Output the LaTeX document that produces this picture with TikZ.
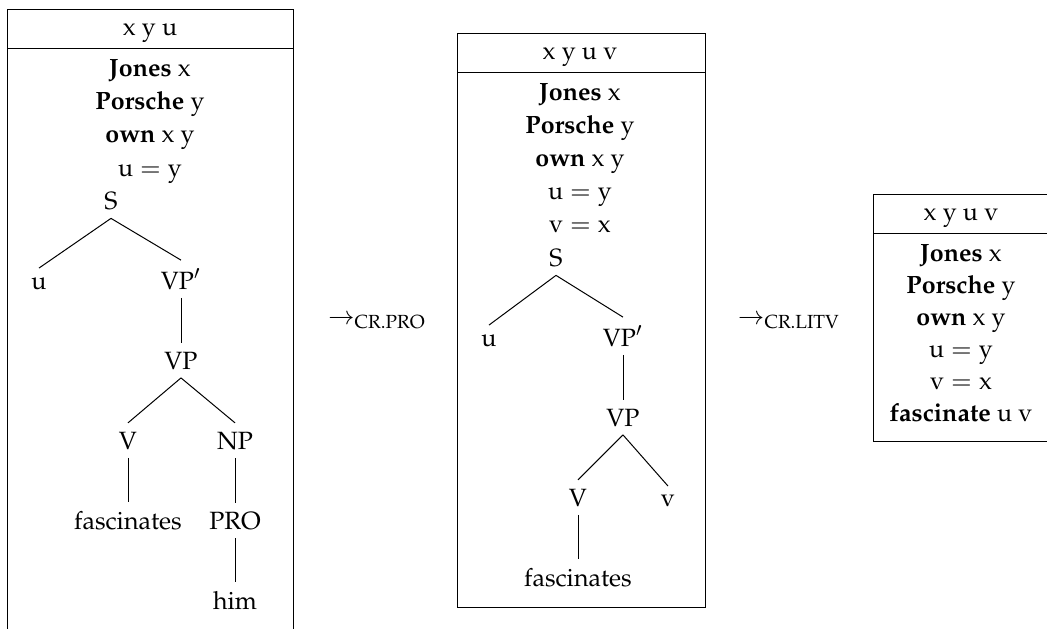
\documentclass[tikz,border=0pt]{standalone}
\usepackage[T1]{fontenc}
\usepackage{mathpazo}
\tikzset{cond/.style={anchor=base,inner sep=0pt},
  cat/.style={anchor=base}}
\begin{document}
\begin{tikzpicture}[x=0.4pt,y=-0.4pt]
      \useasboundingbox (0,0) rectangle (1047,628);
      % first box
      \draw (7,640) -- (7,9.5) -- (293,9.5) -- (293,640);
      \draw (7,48) -- (293,48);
      \node[cond] (hdA) at (150,35) {x y u};
      \node[cond] (jonesA) at (150,76) {\textbf{Jones} x};
      \node[cond] (porscheA) at (150,109) {\textbf{Porsche} y};
      \node[cond] (ownA) at (150,142) {\textbf{own} x y};
      \node[cond] (eqA) at (150,176) {$\mathrm{u}=\mathrm{y}$};
      \node[cat] (SA) at (111,209) {S};
      \node[cat] (uA) at (39,289) {u};
      \node[cat] (VPbarA) at (181,289) {VP$'$};
      \node[cat] (VPA) at (181,369) {VP};
      \node[cat] (VA) at (128,449) {V};
      \node[cat] (NPA) at (235,449) {NP};
      \node[cat] (fascA) at (128,529) {fascinates};
      \node[cat] (PROA) at (235,529) {PRO};
      \node[cat] (himA) at (235,609) {him};
      \foreach \a/\b in {SA/uA,SA/VPbarA,VPbarA/VPA,VPA/VA,VPA/NPA,VA/fascA,NPA/PROA,PROA/himA}
        \draw (\a.south) -- (\b.north);
      \node[cond] (arrA) at (377,324) {$\rightarrow_{\mathrm{CR.PRO}}$};
      % second box
      \draw (457,33) rectangle (705,607);
      \draw (457,72) -- (705,72);
      \node[cond] (hdB) at (580,59) {x y u v};
      \node[cond] (jonesB) at (580,100) {\textbf{Jones} x};
      \node[cond] (porscheB) at (580,133) {\textbf{Porsche} y};
      \node[cond] (ownB) at (580,166) {\textbf{own} x y};
      \node[cond] (equB) at (580,199) {$\mathrm{u}=\mathrm{y}$};
      \node[cond] (eqvB) at (580,232) {$\mathrm{v}=\mathrm{x}$};
      \node[cat] (SB) at (556,266) {S};
      \node[cat] (uB) at (489,346) {u};
      \node[cat] (VPbarB) at (623,346) {VP$'$};
      \node[cat] (VPB) at (623,426) {VP};
      \node[cat] (VB) at (578,506) {V};
      \node[cat] (vB) at (668,506) {v};
      \node[cat] (fascB) at (578,586) {fascinates};
      \foreach \a/\b in {SB/uB,SB/VPbarB,VPbarB/VPB,VPB/VB,VPB/vB,VB/fascB}
        \draw (\a.south) -- (\b.north);
      \node[cond] (arrB) at (789,324) {$\rightarrow_{\mathrm{CR.LITV}}$};
      % third box
      \draw (873,194) rectangle (1049,441);
      \draw (873,233) -- (1049,233);
      \node[cond] (hdC) at (961,220) {x y u v};
      \node[cond] (jonesC) at (961,261) {\textbf{Jones} x};
      \node[cond] (porscheC) at (961,293) {\textbf{Porsche} y};
      \node[cond] (ownC) at (961,325) {\textbf{own} x y};
      \node[cond] (equC) at (961,357) {$\mathrm{u}=\mathrm{y}$};
      \node[cond] (eqvC) at (961,389) {$\mathrm{v}=\mathrm{x}$};
      \node[cond] (fascC) at (961,421) {\textbf{fascinate} u v};
    \end{tikzpicture}
\end{document}
